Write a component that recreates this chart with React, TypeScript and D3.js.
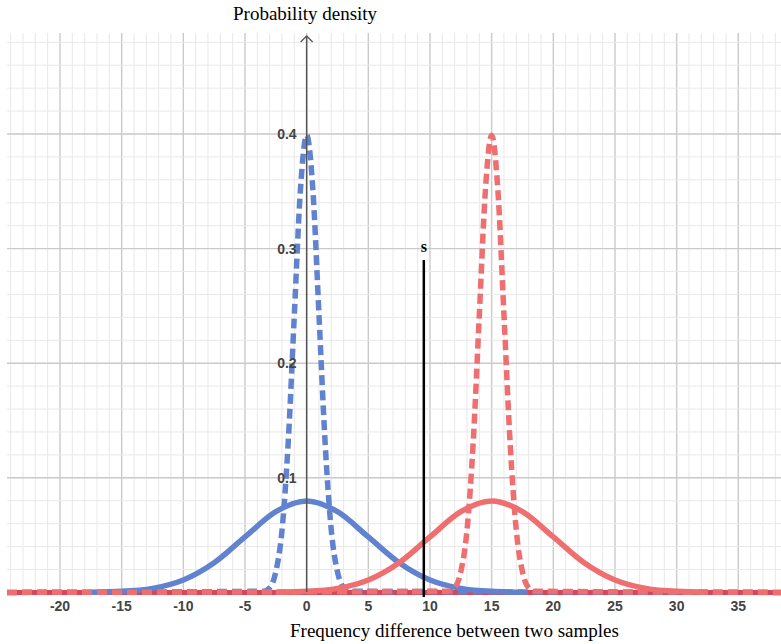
import React from "react";
import { scaleLinear, line, curveMonotoneX, range } from "d3";

// densities
const narrowX = [-3.5, -3, -2.5, -2, -1.5, -1, -0.5, 0, 0.5, 1, 1.5, 2, 2.5, 3, 3.5];
const narrowY = [0.001, 0.004, 0.018, 0.054, 0.13, 0.242, 0.352, 0.399, 0.352, 0.242, 0.13, 0.054, 0.018, 0.004, 0.001];
const wideX = [-17.5, -15, -12.5, -10, -7.5, -5, -2.5, 0, 2.5, 5, 7.5, 10, 12.5, 15, 17.5];
const wideY = [0.0002, 0.0009, 0.0035, 0.0108, 0.0259, 0.0484, 0.0704, 0.0798, 0.0704, 0.0484, 0.0259, 0.0108, 0.0035, 0.0009, 0.0002];
const blueCenter = 0;
const redCenter = 15;
const sValue = 9.5;
const xTicks = [-20, -15, -10, -5, 0, 5, 10, 15, 20, 25, 30, 35];
const yTicks = [0.1, 0.2, 0.3, 0.4];

const BLUE = "#6183cf";
const RED = "#ef6e70";

export default function App() {
  const x = scaleLinear().domain([-20, 35]).range([60, 738.3]);
  const y = scaleLinear().domain([0, 0.4]).range([592.4, 134]);
  const left = 7, right = 781, top = 33, bottom = 592;

  type P = [number, number];
  const shifted = (xs: number[], ys: number[], c: number): P[] => xs.map((v, i) => [v + c, ys[i]]);
  const withTails = (pts: P[]): P[] => [[x.invert(left), 0], ...pts, [x.invert(right), 0]];

  const path = line<P>()
    .x(d => x(d[0]))
    .y(d => y(d[1]))
    .curve(curveMonotoneX);

  const minorX = range(-24, 39, 1);
  const minorY = range(0.02, 0.49, 0.02);

  return (
    <svg width={781} height={644} style={{ position: "absolute", left: 0, top: 0, background: "#fff" }}>
      <g>
        {minorX.map(v => (
          <line key={"mx" + v} x1={x(v)} x2={x(v)} y1={top} y2={bottom}
            stroke={v % 5 === 0 ? "#cacaca" : "#e8e8e8"} strokeWidth={v % 5 === 0 ? 1.4 : 1} />
        ))}
        {minorY.map((v, i) => (
          <line key={"my" + i} x1={left} x2={right} y1={y(v)} y2={y(v)}
            stroke={(i + 1) % 5 === 0 ? "#cacaca" : "#e8e8e8"} strokeWidth={(i + 1) % 5 === 0 ? 1.4 : 1} />
        ))}
      </g>
      <line x1={left} x2={right} y1={y(0)} y2={y(0)} stroke="#d8465a" strokeWidth={5} />
      <path d={path(shifted(wideX, wideY, blueCenter)) || ""} fill="none" stroke={BLUE} strokeWidth={5.5} />
      <path d={path(withTails(shifted(narrowX, narrowY, blueCenter))) || ""} fill="none" stroke={BLUE}
        strokeWidth={5.5} strokeDasharray="10 5" />
      <path d={path(shifted(wideX, wideY, redCenter)) || ""} fill="none" stroke={RED} strokeWidth={5.5} />
      <path d={path(withTails(shifted(narrowX, narrowY, redCenter))) || ""} fill="none" stroke={RED}
        strokeWidth={5.5} strokeDasharray="10 5" />

      <line x1={x(0)} x2={x(0)} y1={36} y2={bottom} stroke="#555" strokeWidth={1.5} />
      <polyline points={`${x(0) - 6},${42} ${x(0)},${36} ${x(0) + 6},${42}`} fill="none" stroke="#555" strokeWidth={1.3} />

      {xTicks.map(v => (
        <text key={"xt" + v} x={x(v)} y={611} textAnchor="middle" fontFamily="Arial, Liberation Sans"
          fontSize={14} fontWeight="bold" fill="#444">{v}</text>
      ))}
      {yTicks.map(v => (
        <text key={"yt" + v} x={x(0) - 10} y={y(v)} textAnchor="end" dominantBaseline="central"
          fontFamily="Arial, Liberation Sans" fontSize={14} fontWeight="bold" fill="#444">{v}</text>
      ))}

      <line x1={x(sValue)} x2={x(sValue)} y1={260} y2={597} stroke="#000" strokeWidth={2.5} />
      <text x={x(sValue) - 3} y={252} fontFamily="Liberation Serif, Times New Roman, serif" fontSize={16}
        fontWeight="bold" fill="#000">s</text>

      <text x={233} y={20} fontFamily="Liberation Serif, Times New Roman, serif" fontSize={19} fill="#000">Probability density</text>
      <text x={290} y={637} fontFamily="Liberation Serif, Times New Roman, serif" fontSize={19} fill="#000">Frequency difference between two samples</text>
    </svg>
  );
}
